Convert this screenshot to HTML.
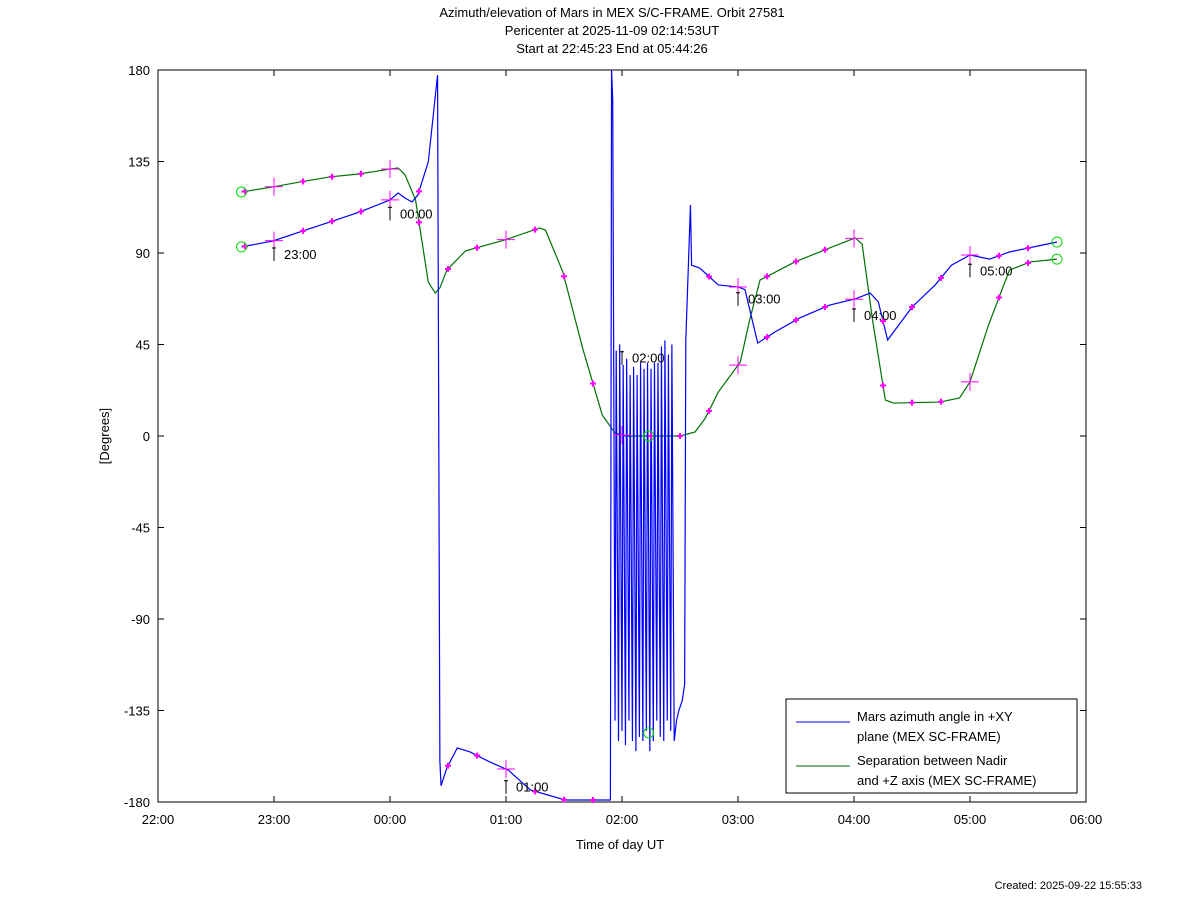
<!DOCTYPE html>
<html><head><meta charset="utf-8"><style>
body{margin:0;background:#fff}
svg{display:block;font-family:"Liberation Sans",sans-serif}
</style></head><body>
<svg id="c" width="1200" height="901" xmlns="http://www.w3.org/2000/svg">
<text x="612" y="17" font-size="13" text-anchor="middle">Azimuth/elevation of Mars in MEX S/C-FRAME.  Orbit 27581</text>
<text x="612" y="35" font-size="13" text-anchor="middle">Pericenter at 2025-11-09 02:14:53UT</text>
<text x="612" y="53" font-size="13" text-anchor="middle">Start at 22:45:23 End at 05:44:26</text>
<rect x="158" y="70" width="928" height="732" fill="none" stroke="#000"/>
<g id="axes"></g>
<g id="series"></g>
<g id="marks"></g>
<text transform="translate(109,436) rotate(-90)" font-size="13" text-anchor="middle">[Degrees]</text>
<text x="620" y="849" font-size="13" text-anchor="middle">Time of day UT</text>
<text x="1142" y="889" font-size="11" text-anchor="end">Created: 2025-09-22 15:55:33</text>
<g>
<rect x="786" y="699" width="291" height="94" fill="#fff" stroke="#000"/>
<line x1="796" y1="722" x2="850" y2="722" stroke="#0000ff"/>
<text x="857" y="721" font-size="13">Mars azimuth angle in +XY</text>
<text x="857" y="741" font-size="13">plane (MEX SC-FRAME)</text>
<line x1="796" y1="766" x2="850" y2="766" stroke="#006400"/>
<text x="857" y="765" font-size="13">Separation between Nadir</text>
<text x="857" y="785" font-size="13">and +Z axis (MEX SC-FRAME)</text>
</g>
</svg>
<script>
const xTicks=["22:00","23:00","00:00","01:00","02:00","03:00","04:00","05:00","06:00"];
const yTicks=[180,135,90,45,0,-45,-90,-135,-180];
// hours since 22:00, degrees
const sepT=[0.72,0.99,1.22,1.48,1.74,2.00,2.07,2.13,2.22,2.33,2.39,2.43,2.49,2.65,2.99,3.29,3.34,3.49,3.66,3.83,3.94,4.03,4.50,4.63,4.72,4.83,5.02,5.10,5.19,5.49,5.79,6.01,6.07,6.16,6.27,6.34,6.74,6.91,7.00,7.16,7.34,7.52,7.75];
const sepV=[120,122.5,124.9,127.4,128.9,131.3,131.8,128.4,116.1,75.7,70.3,72.8,81.6,91,96.4,102.3,101.3,80.7,43.3,10.3,1.5,0,0,2,8.9,21.6,36.4,57,76.7,85.6,92.5,97.4,94.4,57,17.7,16.2,16.7,18.7,26.6,54.6,81.6,85.6,87];
const azT=[0.72,0.99,1.22,1.48,1.74,2.00,2.07,2.13,2.19,2.24,2.33,2.41,2.43,2.44,2.49,2.58,2.69,2.86,3.02,3.21,3.51,3.90,3.91,3.92,3.94,3.95,3.97,3.98,4.00,4.01,4.03,4.04,4.06,4.07,4.09,4.10,4.12,4.13,4.15,4.16,4.18,4.19,4.21,4.22,4.24,4.25,4.27,4.28,4.30,4.31,4.33,4.34,4.36,4.37,4.39,4.40,4.42,4.43,4.45,4.47,4.49,4.52,4.54,4.55,4.59,4.60,4.67,4.83,5.00,5.06,5.17,5.32,5.53,5.79,6.01,6.14,6.21,6.29,6.50,6.70,6.84,7.00,7.17,7.34,7.75];
const azV=[93,95.9,100.3,105.2,110.2,116.1,119.5,117,115.1,118.5,134.8,177.5,-160,-172,-163.3,-153.4,-155.4,-160.3,-164.3,-174.1,-179,-179,180,165,-140,42,-150,45,-145,35,-152,38,-140,30,-150,34,-155,30,-148,36,-150,33,-145,36,-155,33,-150,36,-140,36,-148,44,-150,47,-140,40,-145,45,-150,-140,-135,-130,-122,47,113.6,84,82.6,74.3,73.3,72,45.7,51.2,58,64.4,67.4,70.3,65.9,47.2,63.4,74.3,84,89,87,90.5,95.4];
const X=h=>158+h*116, Y=d=>70+(180-d)*732/360;
const NS="http://www.w3.org/2000/svg";
function mk(tag,at,parent){const e=document.createElementNS(NS,tag);for(const k in at)e.setAttribute(k,at[k]);document.getElementById(parent).appendChild(e);return e;}
xTicks.forEach((t,i)=>{
 const l=mk('line',{x1:X(i),x2:X(i),y1:796,y2:802,stroke:'#000'},'axes');
 
 
 const l2=mk('line',{x1:X(i),x2:X(i),y1:70,y2:76,stroke:'#000'},'axes');
 
 
 const tx=mk('text',{x:X(i),y:824,'font-size':13,'text-anchor':'middle'},'axes');tx.textContent=t;
 
 
});
yTicks.forEach(v=>{
 const l=mk('line',{x1:158,x2:164,y1:Y(v),y2:Y(v),stroke:'#000'},'axes');
 
 
 const l2=mk('line',{x1:1080,x2:1086,y1:Y(v),y2:Y(v),stroke:'#000'},'axes');
 
 
 const tx=mk('text',{x:150,y:Y(v)+5,'font-size':13,'text-anchor':'end'},'axes');tx.textContent=v;
 
 
});
function line(T,V,col,name){
 const p=mk('polyline',{points:T.map((t,i)=>X(t)+','+Y(V[i])).join(' '),fill:'none',stroke:col,'stroke-width':1.2},'series');
 
 
}
line(sepT,sepV,'#007000','separation-line');
line(azT,azV,'#0000ff','azimuth-line');
function interp(T,V,t){for(let i=0;i<T.length-1;i++){if(t>=T[i]&&t<=T[i+1]){const f=(t-T[i])/(T[i+1]-T[i]||1);return V[i]+f*(V[i+1]-V[i]);}}return V[V.length-1];}
function plus(x,y,s){
 const g=mk('path',{d:`M${x-s},${y}H${x+s}M${x},${y-s}V${y+s}`,stroke:'#ff00ff','stroke-width':s>4?1:2},'marks');
 
 
}
for(let t=0.75;t<7.75;t+=0.25){
 const big=Math.abs(t-Math.round(t))<0.01;
 plus(X(t),Y(interp(sepT,sepV,t)),big?9:3);
 if(!(t>3.9&&t<4.6)) plus(X(t),Y(interp(azT,azV,t)),big?9:3);
}
[[0.72,120],[0.72,93],[7.75,87],[7.75,95.4],[4.23,0],[4.23,-146]].forEach(p=>{
 const c=mk('circle',{cx:X(p[0]),cy:Y(p[1]),r:5,fill:'none',stroke:'#00dd00'},'marks');
 
 
});
const hourLabels=["23:00","00:00","01:00","02:00","03:00","04:00","05:00"];
const hourLabelDeg=[90,110,-172,39,68,60,82];
hourLabels.forEach((s,i)=>{
 const x=X(i+1),y=Y(hourLabelDeg[i]);
 const l=mk('path',{d:`M${x},${y-6}V${y+8}M${x-2},${y-5}H${x+2}`,stroke:'#000'},'marks');
 
 
 const tx=mk('text',{x:x+10,y:y+6,'font-size':13},'marks');tx.textContent=s;
 
 
});
</script>
</body></html>
